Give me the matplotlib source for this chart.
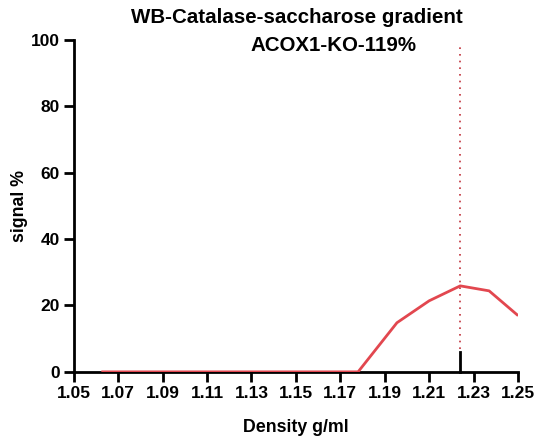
import numpy as np
import matplotlib.pyplot as plt

plt.rcParams['font.family'] = ['Liberation Sans', 'DejaVu Sans']
plt.rcParams['font.weight'] = 'bold'

# Daten
density = [1.063, 1.085, 1.105, 1.125, 1.145, 1.165, 1.178, 1.1955, 1.210, 1.224, 1.237, 1.2496]
signal = [0, 0, 0, 0, 0, 0, 0, 14.8, 21.4, 25.9, 24.4, 17.2]
peak_x = 1.224
xticks = [1.05, 1.07, 1.09, 1.11, 1.13, 1.15, 1.17, 1.19, 1.21, 1.23, 1.25]
yticks = [0, 20, 40, 60, 80, 100]

fig = plt.figure(figsize=(5.39, 4.38), dpi=100)
ax = fig.add_axes([0.137, 0.151, 0.824, 0.758])

ax.plot(density, signal, '-', color='#e2474f', lw=2, zorder=3)
ax.plot([peak_x, peak_x], [7, 98], linestyle=(0, (1, 3)), color='#c0303a', lw=1.2)
ax.plot([peak_x, peak_x], [0, 6], '-', color='black', lw=2, clip_on=False)

ax.set_xlim(1.05, 1.25)
ax.set_ylim(0, 100)
ax.set_xticks(xticks)
ax.set_xticklabels([f'{t:.2f}' for t in xticks])
ax.set_yticks(yticks)

for s in ['top', 'right']:
    ax.spines[s].set_visible(False)
for s in ['left', 'bottom']:
    ax.spines[s].set_linewidth(2)
ax.tick_params(direction='out', length=7, width=2, labelsize=12.5, pad=3)

ax.set_xlabel('Density g/ml', fontsize=12.8, fontweight='bold', labelpad=13)
ax.set_ylabel('signal %', fontsize=12.8, fontweight='bold', labelpad=2)

fig.text(0.551, 0.959, 'WB-Catalase-saccharose gradient', ha='center', va='center',
         fontsize=14.8, fontweight='bold')
fig.text(0.618, 0.897, 'ACOX1-KO-119%', ha='center', va='center',
         fontsize=14.8, fontweight='bold')

plt.savefig('out.png', dpi=100)
